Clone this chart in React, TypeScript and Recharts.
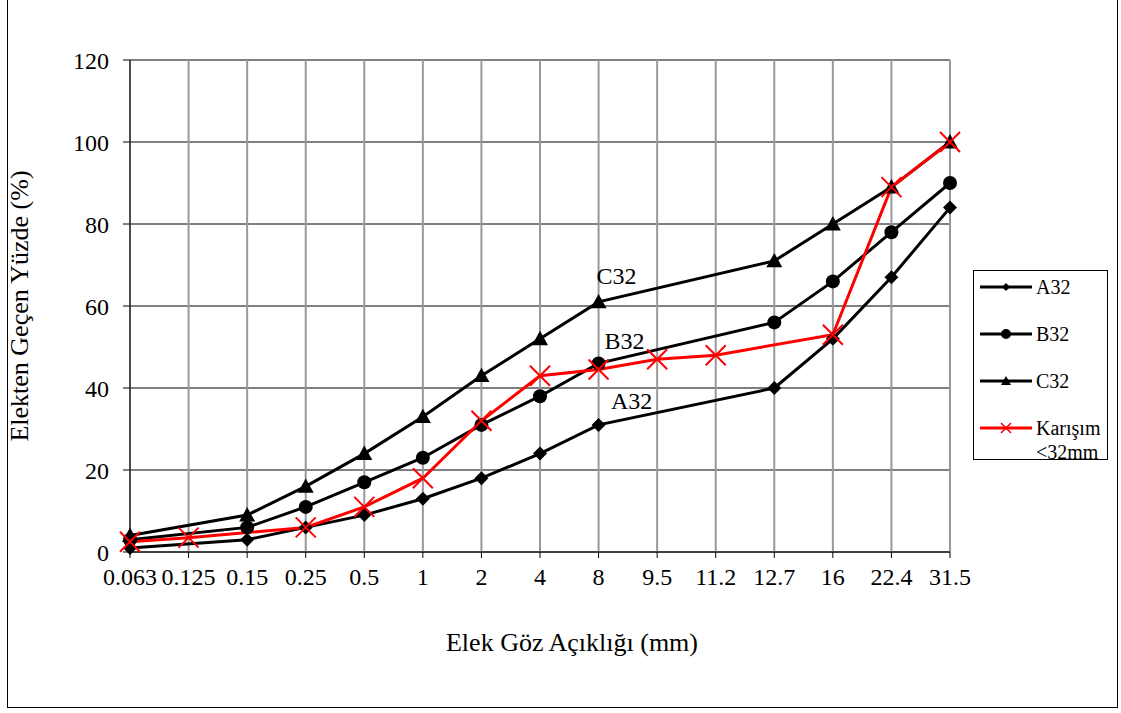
import React from "react";
import {
  LineChart, Line, XAxis, YAxis, CartesianGrid, Legend, ReferenceDot,
} from "recharts";

const sizes = ["0.063", "0.125", "0.15", "0.25", "0.5", "1", "2", "4", "8", "9.5", "11.2", "12.7", "16", "22.4", "31.5"];
const a32 = [1, null, 3, 6, 9, 13, 18, 24, 31, null, null, 40, 52, 67, 84];
const b32 = [3, null, 6, 11, 17, 23, 31, 38, 46, null, null, 56, 66, 78, 90];
const c32 = [4, null, 9, 16, 24, 33, 43, 52, 61, null, null, 71, 80, 89, 100];
const karisim = [2.5, 3.5, null, 6, 11, 18, 32, 43, 44.5, 47, 48, null, 53, 89, 100];
const yTicks = [0, 20, 40, 60, 80, 100, 120];

const data = sizes.map((s, i) => ({
  size: s, A32: a32[i], B32: b32[i], C32: c32[i], K: karisim[i],
}));

const FONT = "'Liberation Serif', 'Times New Roman', serif";

const Diamond = ({ cx, cy, color = "#000", s = 7 }: any) =>
  cx == null || cy == null ? null : (
    <path d={`M${cx},${cy - s}L${cx + s},${cy}L${cx},${cy + s}L${cx - s},${cy}Z`} fill={color} />
  );
const Circle = ({ cx, cy, color = "#000", r = 7 }: any) =>
  cx == null || cy == null ? null : <circle cx={cx} cy={cy} r={r} fill={color} />;
const Triangle = ({ cx, cy, color = "#000", s = 8 }: any) =>
  cx == null || cy == null ? null : (
    <path d={`M${cx},${cy - s}L${cx + s},${cy + s * 0.8}L${cx - s},${cy + s * 0.8}Z`} fill={color} />
  );
const Cross = ({ cx, cy, color = "#ff0000", s = 10, w = 2 }: any) =>
  cx == null || cy == null ? null : (
    <path d={`M${cx - s},${cy - s}L${cx + s},${cy + s}M${cx - s},${cy + s}L${cx + s},${cy - s}`} stroke={color} strokeWidth={w} fill="none" />
  );

const dotFn = (Shape: any) => (props: any) =>
  <Shape key={`${props.dataKey}-${props.index}`} cx={props.cx} cy={props.cy} />;

const legendItems = [
  { name: "A32", color: "#000", lines: ["A32"] },
  { name: "B32", color: "#000", lines: ["B32"] },
  { name: "C32", color: "#000", lines: ["C32"] },
  { name: "K", color: "#ff0000", lines: ["Karışım", "<32mm"] },
];

const LegendBox = () => (
  <div style={{
    border: "1px solid #000", width: 135, height: 190, boxSizing: "border-box",
    fontFamily: FONT, fontSize: 20, color: "#000", background: "#fff", paddingTop: 4,
  }}>
    {legendItems.map((it) => (
      <div key={it.name} style={{ display: "flex", alignItems: "flex-start", height: 47 }}>
        <svg width={62} height={24} style={{ flex: "none" }}>
          <line x1={6} y1={12} x2={58} y2={12} stroke={it.color} strokeWidth={3} />
          {it.name === "A32" && <Diamond cx={32} cy={12} s={4} />}
          {it.name === "B32" && <Circle cx={32} cy={12} r={5} />}
          {it.name === "C32" && <Triangle cx={32} cy={12} s={5} />}
          {it.name === "K" && <Cross cx={32} cy={12} s={5} w={1.5} />}
        </svg>
        <div style={{ lineHeight: "24px" }}>
          {it.lines.map((l) => <div key={l}>{l}</div>)}
        </div>
      </div>
    ))}
  </div>
);

const tagLabel = (text: string, dx: number, dy: number) => (p: any) => (
  <text x={p.viewBox.x + dx} y={p.viewBox.y + dy} textAnchor="middle" dominantBaseline="central"
    fontFamily={FONT} fontSize={24} fill="#000">{text}</text>
);

export default function App() {
  return (
    <div style={{ position: "absolute", left: 0, top: 0, width: 1121, height: 713, background: "#fff" }}>
      <div style={{ position: "absolute", left: 7, top: -1, width: 1111, height: 709, border: "1px solid #000", boxSizing: "border-box" }} />
      <LineChart width={1121} height={713} data={data}
        margin={{ top: 60, right: 171, bottom: 0, left: 0 }}>
        <CartesianGrid vertical={false} stroke="#000" strokeWidth={1} />
        <CartesianGrid horizontal={false} stroke="#999" strokeWidth={2} />
        <XAxis dataKey="size" interval={0} height={161} stroke="#000" tickLine={{ stroke: "#000" }}
          tickSize={6} tickMargin={10}
          tick={{ fontFamily: FONT, fontSize: 24, fill: "#000" }}
          label={{ value: "Elek Göz Açıklığı (mm)", position: "insideTop", dx: 32, dy: 76, fontFamily: FONT, fontSize: 26, fill: "#000" }} />
        <YAxis domain={[0, 120]} ticks={yTicks} width={130} stroke="#000" tickSize={7} tickMargin={14}
          tick={{ fontFamily: FONT, fontSize: 24, fill: "#000" }}
          label={{ value: "Elekten Geçen Yüzde (%)", angle: -90, position: "insideLeft", dx: 14, fontFamily: FONT, fontSize: 26, fill: "#000", style: { textAnchor: "middle" } }} />
        <Legend layout="vertical" align="center" verticalAlign="middle"
          wrapperStyle={{ position: "absolute", left: 973, top: 270, width: 135, height: 190 }}
          content={() => <LegendBox />} />
        <Line dataKey="A32" stroke="#000" strokeWidth={3} connectNulls dot={dotFn(Diamond)} isAnimationActive={false} />
        <Line dataKey="B32" stroke="#000" strokeWidth={3} connectNulls dot={dotFn(Circle)} isAnimationActive={false} />
        <Line dataKey="C32" stroke="#000" strokeWidth={3} connectNulls dot={dotFn(Triangle)} isAnimationActive={false} />
        <Line dataKey="K" stroke="#ff0000" strokeWidth={3} connectNulls dot={dotFn(Cross)} isAnimationActive={false} />
        <ReferenceDot x="8" y={61} r={0} stroke="none" label={tagLabel("C32", 18, -26)} />
        <ReferenceDot x="8" y={46} r={0} stroke="none" label={tagLabel("B32", 26, -22)} />
        <ReferenceDot x="8" y={31} r={0} stroke="none" label={tagLabel("A32", 33, -24)} />
      </LineChart>
    </div>
  );
}
